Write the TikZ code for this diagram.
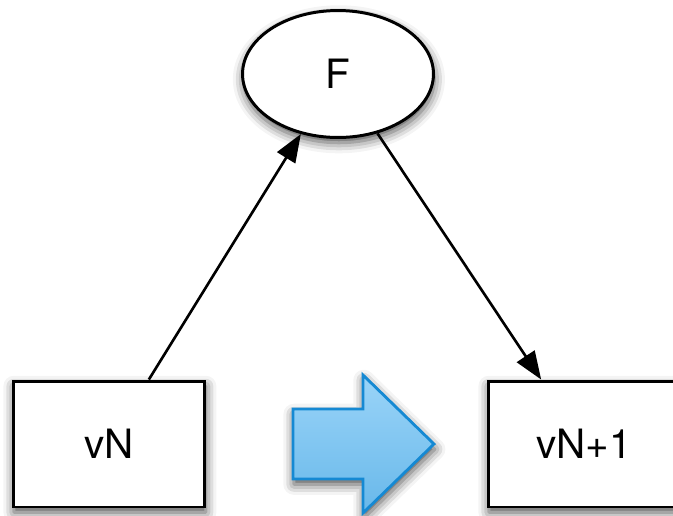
\documentclass[tikz,border=0pt]{standalone}
\usepackage{fontspec}
\setmainfont{TeX Gyre Heros}
\usetikzlibrary{arrows.meta, shapes.geometric, shadows.blur}
\definecolor{arrowblue}{HTML}{1589D3}
\definecolor{arrowtop}{HTML}{9AD4F8}
\definecolor{arrowbot}{HTML}{68B8EA}

\begin{document}
\begin{tikzpicture}[x=0.02cm, y=-0.02cm,
  soft/.style={blur shadow={shadow xshift=0.5pt, shadow yshift=-3pt, shadow blur radius=6pt, shadow opacity=70}},
  box/.style={draw, rectangle, line width=1.7pt, fill=white, soft, minimum width=3.84cm, minimum height=2.52cm, font=\fontsize{23}{26}\selectfont},
  func/.style={draw, ellipse, line width=1.7pt, fill=white, soft, minimum width=3.82cm, minimum height=2.54cm, font=\fontsize{23}{26}\selectfont},
  conn/.style={draw=black, line width=1.5pt, -{Triangle[length=0.56cm, width=0.42cm, fill=black]}},
  bigarrow/.style={draw=arrowblue, line width=1.6pt, top color=arrowtop, bottom color=arrowbot, soft}]
\useasboundingbox (0,0) rectangle (673,515);
%
% Top: the map
\node[func] (F) at (338,74) {F};
%
% Bottom row: state before and after
\node[box] (vN) at (109,444) {vN};
\node[box] (vN1) at (584,444) {vN+1};
%
% Big blue arrow between the states
\draw[bigarrow] (293,409) -- (363,409) -- (363,375) -- (434,444) -- (363,513) -- (363,479) -- (293,479) -- cycle;
%
% Connectors
\draw[conn] (vN) -- (F);
\draw[conn] (F) -- (vN1);
%
\end{tikzpicture}
\end{document}
